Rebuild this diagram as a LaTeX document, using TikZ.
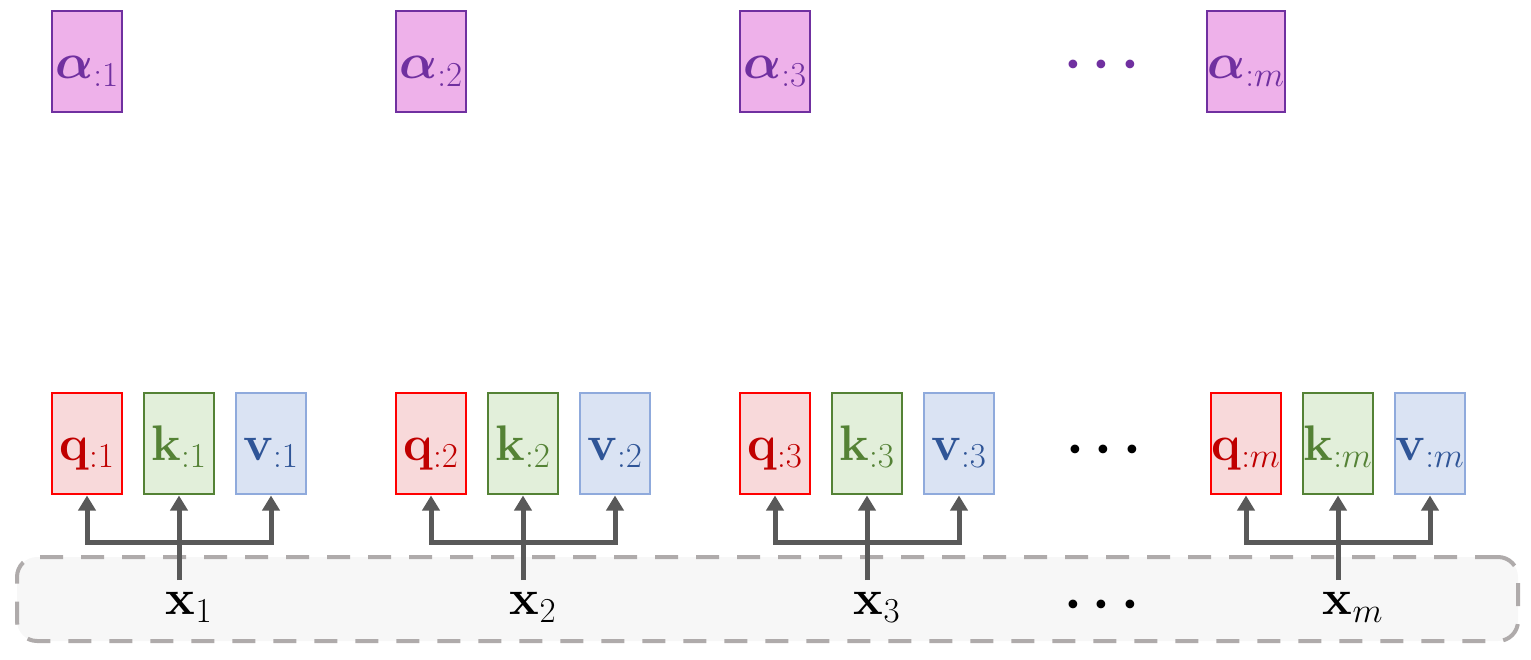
\RequirePackage{fix-cm}
\documentclass[tikz,border=0pt]{standalone}
\usepackage{amsmath}
\usepackage{bm}
\usetikzlibrary{positioning}
\usetikzlibrary{calc}
\usetikzlibrary{arrows.meta}

\definecolor{alphafill}{HTML}{EEB1EA}
\definecolor{alphaline}{HTML}{7030A0}
\definecolor{qfill}{HTML}{F8D9DA}
\definecolor{qline}{HTML}{FF0000}
\definecolor{qtext}{HTML}{C00000}
\definecolor{kfill}{HTML}{E2EFDA}
\definecolor{kline}{HTML}{548235}
\definecolor{vfill}{HTML}{DAE3F3}
\definecolor{vline}{HTML}{8FAADC}
\definecolor{vtext}{HTML}{2F5597}
\definecolor{flowgray}{HTML}{595959}
\definecolor{basefill}{HTML}{F7F7F7}
\definecolor{baseedge}{HTML}{AFABAB}

\begin{document}
\begin{tikzpicture}[x=1pt,y=-1pt,node distance=22pt,
    box/.style={draw, line width=2pt, outer sep=0pt, minimum width=70pt, minimum height=101pt, inner sep=0pt, text height=34pt, text depth=0pt, font=\fontsize{50}{54}\selectfont},
    alphabox/.style={box, fill=alphafill, draw=alphaline, text=alphaline},
    qbox/.style={box, fill=qfill, draw=qline, text=qtext},
    kbox/.style={box, fill=kfill, draw=kline, text=kline},
    vbox/.style={box, fill=vfill, draw=vline, text=vtext},
    xlab/.style={inner sep=12pt, anchor=base, font=\fontsize{50}{54}\selectfont},
    dots/.style={inner sep=0pt, font=\fontsize{56}{60}\selectfont},
    flow/.style={draw=flowgray, line width=5pt, line join=miter, shorten >=2pt, -{Triangle[length=15pt,width=17pt]}},
    inputband/.style={draw=baseedge, fill=basefill, line width=4pt, dash pattern=on 23pt off 18pt, rounded corners=20pt, minimum width=1501pt, minimum height=84pt}]
    \useasboundingbox (0,0) rectangle (1531,660);

    % Faixa das entradas
    \node [inputband] (band) at (767.5,599) {};

    % Consultas, chaves e valores
    \node [qbox] (q1) at (87,443) {$\mathbf{q}_{:1}$};
    \node [kbox, right=of q1] (k1) {$\mathbf{k}_{:1}$};
    \node [vbox, right=of k1] (v1) {$\mathbf{v}_{:1}$};
    \node [qbox, right=90pt of v1] (q2) {$\mathbf{q}_{:2}$};
    \node [kbox, right=of q2] (k2) {$\mathbf{k}_{:2}$};
    \node [vbox, right=of k2] (v2) {$\mathbf{v}_{:2}$};
    \node [qbox, right=90pt of v2] (q3) {$\mathbf{q}_{:3}$};
    \node [kbox, right=of q3] (k3) {$\mathbf{k}_{:3}$};
    \node [vbox, right=of k3] (v3) {$\mathbf{v}_{:3}$};
    \node [qbox, right=217pt of v3] (qm) {$\mathbf{q}_{:m}$};
    \node [kbox, right=of qm] (km) {$\mathbf{k}_{:m}$};
    \node [vbox, right=of km] (vm) {$\mathbf{v}_{:m}$};
    \node [dots] (qdots) at (1109,450) {$\bm{\cdots}$};

    % Pesos
    \node [alphabox, above=280pt of q1] (a1) {$\bm{\alpha}_{:1}$};
    \node [alphabox, above=280pt of q2] (a2) {$\bm{\alpha}_{:2}$};
    \node [alphabox, above=280pt of q3] (a3) {$\bm{\alpha}_{:3}$};
    \node [alphabox, above=280pt of qm] (am) {$\bm{\alpha}_{:m}$};
    \node [dots, text=alphaline] (adots) at (1107,65) {$\bm{\cdots}$};

    % Entradas
    \node [xlab] (x1) at ($(k1.south)+(10,121)$) {$\mathbf{x}_1$};
    \node [xlab] (x2) at ($(k2.south)+(10,121)$) {$\mathbf{x}_2$};
    \node [xlab] (x3) at ($(k3.south)+(10,121)$) {$\mathbf{x}_3$};
    \node [xlab] (xm) at ($(km.south)+(15,121)$) {$\mathbf{x}_m$};
    \node [dots] (xdots) at (1107,605) {$\bm{\cdots}$};

    % Conexoes
    \coordinate [below=49pt of k1.south] (j1);
    \coordinate [below=49pt of k2.south] (j2);
    \coordinate [below=49pt of k3.south] (j3);
    \coordinate [below=49pt of km.south] (jm);
    \draw [flow] (x1.north -| k1.south) -- (k1.south);
    \draw [flow] (j1) -| (q1.south);
    \draw [flow] (j1) -| (v1.south);
    \draw [flow] (x2.north -| k2.south) -- (k2.south);
    \draw [flow] (j2) -| (q2.south);
    \draw [flow] (j2) -| (v2.south);
    \draw [flow] (x3.north -| k3.south) -- (k3.south);
    \draw [flow] (j3) -| (q3.south);
    \draw [flow] (j3) -| (v3.south);
    \draw [flow] (xm.north -| km.south) -- (km.south);
    \draw [flow] (jm) -| (qm.south);
    \draw [flow] (jm) -| (vm.south);
\end{tikzpicture}
\end{document}
